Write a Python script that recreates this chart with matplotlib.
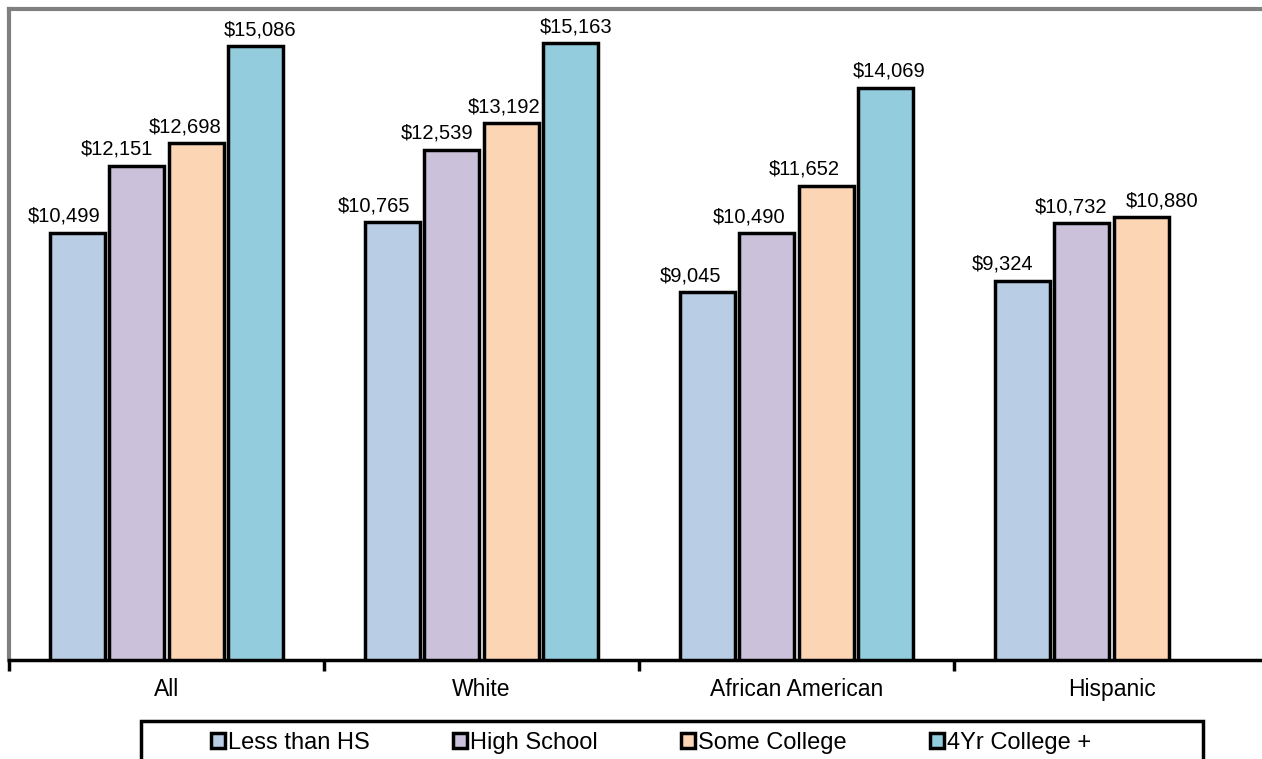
import matplotlib.pyplot as plt
from matplotlib.patches import Rectangle
import numpy as np

plt.rcParams['font.family'] = ['Liberation Sans', 'DejaVu Sans']

groups = ["All", "White", "African American", "Hispanic"]
levels = ["Less than HS", "High School", "Some College", "4Yr College +"]
less_than_hs = [10499, 10765, 9045, 9324]
high_school = [12151, 12539, 10490, 10732]
some_college = [12698, 13192, 11652, 10880]
college_4yr = [15086, 15163, 14069, None]
colors = ["#B9CDE5", "#CCC1DA", "#FCD5B5", "#93CDDD"]

series = [less_than_hs, high_school, some_college, college_4yr]

# horizontal nudge of each value label (pixels), per series then per group
label_dx = [
    [-13, -18, -17, -20],
    [-20, -15, -18, -11],
    [-11, -7, -22, 21],
    [4, 5, 3, 0],
]

fig = plt.figure(figsize=(12.62, 7.59), dpi=100)
# axes run past the right edge of the figure
ax = fig.add_axes([9 / 1262, 1 - 660 / 759, 1260 / 1262, 651 / 759])

x = np.arange(len(groups))
step = 0.189
width = 0.175
for i, (vals, col, name) in enumerate(zip(series, colors, levels)):
    offs = (i - 1.5) * step
    idx = [j for j, v in enumerate(vals) if v is not None]
    xs = [x[j] + offs for j in idx]
    vs = [vals[j] for j in idx]
    bars = ax.bar(xs, vs, width, color=col, edgecolor="black", linewidth=2.5,
                  label=name, zorder=3)
    for j, b, v in zip(idx, bars, vs):
        ax.annotate(f"${v:,}", (b.get_x() + b.get_width() / 2, v),
                    xytext=(label_dx[i][j] * 0.72, 5), textcoords="offset points",
                    ha="center", va="bottom", fontsize=14.5)

ax.set_xlim(-0.5, 3.5)
ax.set_ylim(0, 16000)
ax.set_yticks([])
ax.set_xticks(x)
ax.set_xticklabels(groups, fontsize=16.5)
ax.tick_params(axis="x", which="major", length=0, pad=13)
ax.set_xticks(np.arange(-0.5, 3.6, 1), minor=True)
ax.tick_params(axis="x", which="minor", length=8, width=2.5, color="black")

for side in ("left", "top"):
    ax.spines[side].set_color("#808080")
    ax.spines[side].set_linewidth(3)
ax.spines["right"].set_visible(False)
ax.spines["bottom"].set_color("black")
ax.spines["bottom"].set_linewidth(2.5)

# legend box sits at the bottom and runs off the figure
fig.patches.append(Rectangle((141 / 1262, -0.05), 1062 / 1262, 0.05 + 38 / 759,
                             transform=fig.transFigure, fill=False,
                             edgecolor="black", linewidth=2.5))
handles, labels = ax.get_legend_handles_labels()
fig.legend(handles, labels, loc="center", bbox_to_anchor=(651 / 1262, 1 - 743 / 759),
           ncol=4, frameon=False, fontsize=17, handlelength=0.6, handleheight=0.6,
           handletextpad=0.15, columnspacing=3.5, borderpad=0)

fig.savefig("out.png", dpi=100)
